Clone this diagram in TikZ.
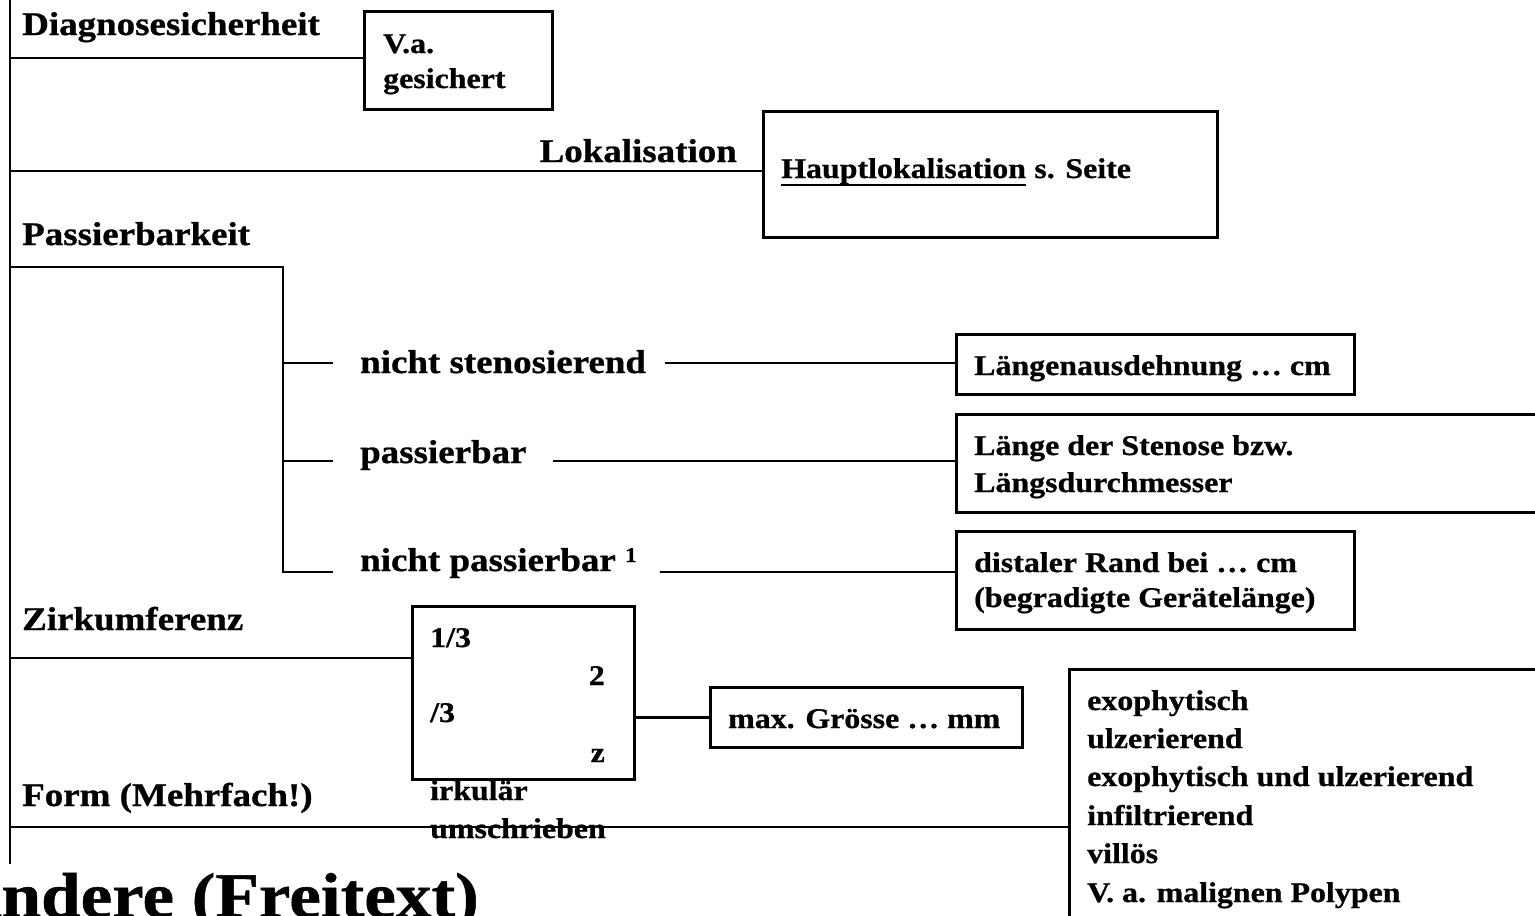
\documentclass[tikz,border=0pt]{standalone}
\usepackage{fontspec}
\setmainfont{Liberation Serif}[FakeStretch=1.12, BoldFeatures={FakeBold=0.8}]
\begin{document}
\begin{tikzpicture}[x=1pt,y=-1pt,
  ln/.style={line width=2.6pt},
  box/.style={draw, line width=2.6pt, anchor=north west, inner sep=0pt},
  lbl/.style={inner sep=0pt, anchor=base west, font=\fontsize{33}{38}\selectfont\bfseries},
  btxt/.style={inner sep=0pt, anchor=base west, font=\fontsize{28.5}{34}\selectfont\bfseries}]
\useasboundingbox (0,0) rectangle (1535,916);
\clip (0,0) rectangle (1535,916);
% spine
\coordinate (sTop) at (10,0);
\coordinate (sBot) at (10,864);
\draw[ln] (sTop) -- (sBot);
% boxes
\node[box, minimum width=188pt, minimum height=98pt] (va) at (363,10) {};
\node[box, minimum width=454pt, minimum height=126pt] (hl) at (762,110) {};
\node[box, minimum width=398pt, minimum height=60pt] (la) at (955,333) {};
\node[box, minimum width=620pt, minimum height=98pt] (ls) at (955,413) {};
\node[box, minimum width=398pt, minimum height=98pt] (dr) at (955,530) {};
\node[box, minimum width=222pt, minimum height=173pt] (zk) at (411,605) {};
\node[box, minimum width=312pt, minimum height=60pt] (mg) at (709,686) {};
\node[box, minimum width=520pt, minimum height=320pt] (fm) at (1068,668) {};
% labels
\node[lbl] (dg) at (22,35) {Diagnosesicherheit};
\node[lbl, anchor=base east] (lk) at (737,162) {Lokalisation};
\node[lbl] (pb) at (22,245) {Passierbarkeit};
\node[lbl] (ns) at (360,373) {nicht stenosierend};
\node[lbl] (ps) at (360,463) {passierbar};
\node[lbl] (np) at (360,571) {nicht passierbar \raisebox{9pt}{\fontsize{21}{21}\selectfont 1}};
\node[lbl] (zf) at (22,630) {Zirkumferenz};
\node[lbl] (fo) at (22,806) {Form (Mehrfach!)};
\node[inner sep=0pt, anchor=base west, font=\fontsize{63.5}{70}\selectfont\bfseries] (an) at (-50,917) {Andere (Freitext)};
% connectors from spine
\coordinate (j1) at (10,58);
\draw[ln] (j1) -- (j1 -| va.west);
\coordinate (j2) at (10,171);
\draw[ln] (j2) -- (j2 -| hl.west);
\coordinate (j3) at (10,267);
\coordinate (k) at (283,267);
\coordinate (kb) at (283,572);
\coordinate (e3) at (333,572);
\draw[ln] (j3) -- (k) -- (kb) -- (e3);
\coordinate (k1) at (283,363);
\coordinate (e1) at (333,363);
\draw[ln] (k1) -- (e1);
\coordinate (k2) at (283,461);
\coordinate (e2) at (333,461);
\draw[ln] (k2) -- (e2);
\coordinate (t1) at (665,363);
\draw[ln] (t1) -- (t1 -| la.west);
\coordinate (t2) at (553,461);
\draw[ln] (t2) -- (t2 -| ls.west);
\coordinate (t3) at (660,572);
\draw[ln] (t3) -- (t3 -| dr.west);
\coordinate (j4) at (10,658);
\draw[ln] (j4) -- (j4 -| zk.west);
\draw[ln] (mg.west -| zk.east) -- (mg.west);
\coordinate (j5) at (10,827);
\draw[ln] (j5) -- (j5 -| fm.west);
% box texts
\node[btxt] (va1) at (383,53) {V.a.};
\node[btxt] (va2) at (383,88) {gesichert};
\node[btxt] (hlt) at (781,178) {Hauptlokalisation};
\node[btxt] (hls) at (hlt.base east) {\ s. Seite};
\draw[line width=2pt] ([yshift=-7pt]hlt.base west) -- ([yshift=-7pt]hlt.base east);
\node[btxt] (la1) at (974,375) {Längenausdehnung … cm};
\node[btxt] (ls1) at (974,455) {Länge der Stenose bzw.};
\node[btxt] (ls2) at (974,492) {Längsdurchmesser};
\node[btxt] (dr1) at (974,572) {distaler Rand bei … cm};
\node[btxt] (dr2) at (974,607) {(begradigte Gerätelänge)};
\node[btxt] (z1) at (430,647) {1/3};
\node[btxt, anchor=base east] (z2) at (605,685) {2};
\node[btxt] (z3) at (430,722) {/3};
\node[btxt, anchor=base east] (z4) at (605,762) {z};
\node[btxt] (z5) at (430,800) {irkulär};
\node[btxt] (z6) at (430,838) {umschrieben};
\node[btxt] (mg1) at (728,728) {max. Grösse … mm};
\node[btxt] (f1) at (1087,710) {exophytisch};
\node[btxt] (f2) at (1087,748) {ulzerierend};
\node[btxt] (f3) at (1087,786) {exophytisch und ulzerierend};
\node[btxt] (f4) at (1087,825) {infiltrierend};
\node[btxt] (f5) at (1087,863) {villös};
\node[btxt] (f6) at (1087,902) {V. a. malignen Polypen};
\end{tikzpicture}
\end{document}
